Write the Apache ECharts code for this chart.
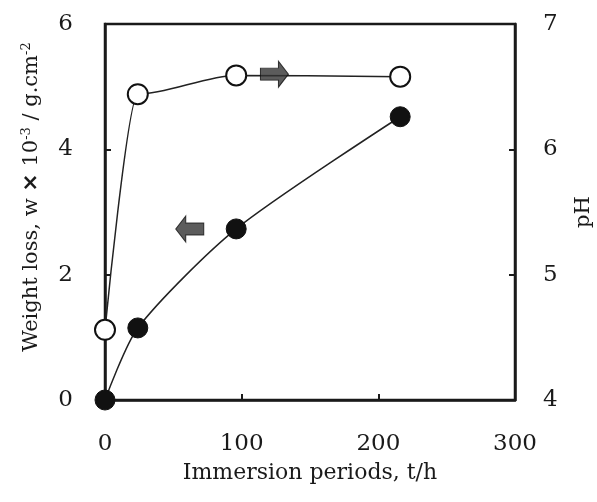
<!DOCTYPE html>
<html>
<head>
<meta charset="utf-8">
<script src="https://cdn.jsdelivr.net/npm/echarts@6/dist/echarts.min.js"></script>
<style>html,body{margin:0;padding:0;background:#fff}#c{width:597px;height:502px}</style>
</head>
<body>
<div id="c"></div>
<script>
// Immersion period (h)
var hours = [0, 24, 96, 216];
// Weight loss (x10^-3 g/cm^2), left axis
var weightLoss = [0, 1.15, 2.73, 4.52];
// pH, right axis
var pH = [4.56, 6.44, 6.59, 6.58];
// axis tick ranges
var xTicks = [0, 100, 200, 300];
var leftTicks = [0, 2, 4, 6];
var rightTicks = [4, 5, 6, 7];
// arrow annotations [x, y]
var arrowToRight = [124, 6.6];   // points at pH axis
var arrowToLeft = [62, 2.73];    // points at weight loss axis

var serif = "'DejaVu Serif', 'Liberation Serif', serif";
var ink = '#1a1a1a';
var chart = echarts.init(document.getElementById('c'), null, {renderer: 'canvas'});

function pairs(xs, ys) { return xs.map(function (x, i) { return [x, ys[i]]; }); }

var rightArrowPath = 'path://M0,7 L18,7 L18,0 L28,13 L18,26 L18,19 L0,19 Z';
var leftArrowPath = 'path://M28,7 L10,7 L10,0 L0,13 L10,26 L10,19 L28,19 Z';

chart.setOption({
  animation: false,
  backgroundColor: '#fff',
  grid: {left: 105, right: 82, top: 24, bottom: 102, outerBoundsMode: 'none', containLabel: false,
         show: true, borderColor: ink, borderWidth: 2.5},
  xAxis: {
    type: 'value', min: xTicks[0], max: xTicks[xTicks.length - 1], interval: 100,
    name: 'Immersion periods, t/h', nameLocation: 'middle', nameGap: 62,
    nameTextStyle: {fontFamily: serif, fontSize: 22, color: ink},
    axisLine: {show: true, lineStyle: {color: ink, width: 2.5}},
    axisTick: {show: true, inside: true, length: 6, lineStyle: {color: ink, width: 2}},
    axisLabel: {fontFamily: serif, fontSize: 23, color: ink, margin: 44, verticalAlign: 'middle'},
    splitLine: {show: false}
  },
  yAxis: [{
    type: 'value', min: leftTicks[0], max: leftTicks[leftTicks.length - 1], interval: 2,
    position: 'left',
    name: 'Weight loss, w {x|\u00d7} 10{sup|-3} / g.cm{sup|-2}', nameLocation: 'middle', nameGap: 62, nameRotate: 90,
    nameTextStyle: {fontFamily: serif, fontSize: 21, color: ink, padding: [0, 0, 0, 30],
      rich: {
        sup: {fontFamily: serif, fontSize: 13, color: ink, verticalAlign: 'top', padding: [0, 0, 10, 0]},
        x: {fontFamily: "'DejaVu Sans', sans-serif", fontWeight: 'bold', fontSize: 22, color: ink}
      }},
    axisLine: {show: true, lineStyle: {color: ink, width: 2.5}},
    axisTick: {show: true, inside: true, length: 6, lineStyle: {color: ink, width: 2}},
    axisLabel: {fontFamily: serif, fontSize: 23, color: ink, margin: 32},
    splitLine: {show: false}
  }, {
    type: 'value', min: rightTicks[0], max: rightTicks[rightTicks.length - 1], interval: 1,
    position: 'right',
    name: 'pH', nameLocation: 'middle', nameGap: 58, nameRotate: 90,
    nameTextStyle: {fontFamily: serif, fontSize: 21, color: ink},
    axisLine: {show: true, lineStyle: {color: ink, width: 2.5}},
    axisTick: {show: true, inside: true, length: 6, lineStyle: {color: ink, width: 2}},
    axisLabel: {fontFamily: serif, fontSize: 23, color: ink, margin: 28},
    splitLine: {show: false}
  }],
  series: [{
    type: 'line', yAxisIndex: 0, data: pairs(hours, weightLoss),
    smooth: 0.25,
    symbol: 'circle', symbolSize: 20,
    lineStyle: {color: '#222', width: 1.5},
    itemStyle: {color: '#111', borderColor: '#111', borderWidth: 1},
    z: 3
  }, {
    type: 'line', yAxisIndex: 1, data: pairs(hours, pH),
    smooth: 0.3, smoothMonotone: 'x',
    symbol: 'circle', symbolSize: 20, showAllSymbol: true,
    lineStyle: {color: '#222', width: 1.5},
    itemStyle: {color: '#fff', borderColor: '#111', borderWidth: 2},
    z: 4
  }, {
    type: 'scatter', yAxisIndex: 1, data: [arrowToRight],
    symbol: rightArrowPath, symbolSize: [28, 26],
    itemStyle: {color: '#333', borderColor: '#111', borderWidth: 1}, z: 5
  }, {
    type: 'scatter', yAxisIndex: 0, data: [arrowToLeft],
    symbol: leftArrowPath, symbolSize: [28, 26],
    itemStyle: {color: '#333', borderColor: '#111', borderWidth: 1}, z: 5
  }]
});
</script>
</body>
</html>
